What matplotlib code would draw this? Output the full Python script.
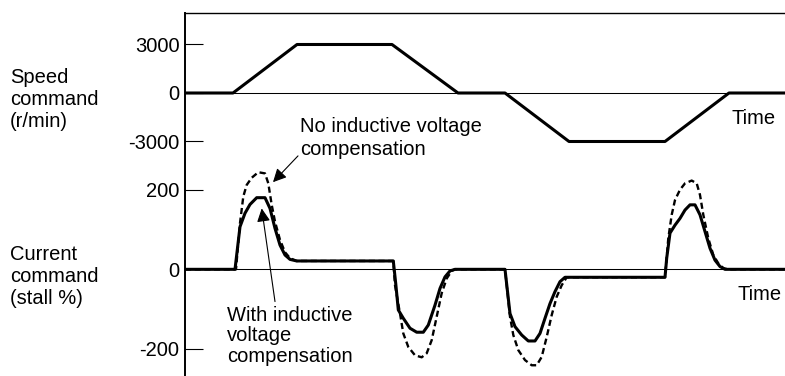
import matplotlib.pyplot as plt

plt.rcParams['font.family'] = ['Liberation Sans', 'DejaVu Sans']

W, H = 785, 376

# speed command profile (time in arbitrary units, r/min)
t_speed = [0, 4.8, 11.2, 20.7, 27.3, 32.0, 38.4, 48.0, 54.4, 60]
speed = [0, 0, 3000, 3000, 0, 0, -3000, -3000, 0, 0]

# current command with inductive voltage compensation (stall %)
t_with = [0, 5.0, 5.5, 6.0, 6.5, 7.17, 8.0, 8.5, 9.0, 9.5, 10.0, 10.5, 11.17, 20.83,
          21.07, 21.33, 21.83, 22.5, 23.17, 23.83, 24.33, 25.0, 25.5, 26.0, 26.5, 27.0, 32.0,
          32.5, 33.0, 33.67, 34.33, 35.0, 35.5, 36.0, 36.5, 37.0, 37.5, 38.0, 38.67, 48.0,
          48.17, 48.5, 49.0, 49.5, 50.0, 50.5, 51.0, 51.5, 52.0, 52.5, 53.0, 53.5, 54.0, 60]
cur_with = [0, 0, 107, 141, 163, 180, 180, 153, 103, 61, 36, 25, 21, 21,
            -35, -102, -123, -148, -158, -158, -140, -90, -48, -19, -4, 0, 0,
            -111, -144, -165, -180, -180, -161, -123, -86, -56, -31, -20, -20, -20,
            28, 91, 111, 128, 149, 162, 162, 137, 95, 53, 23, 7, 0, 0]

# current command without compensation
t_no = [0, 5.1, 5.5, 5.83, 6.17, 6.67, 7.33, 8.0, 8.33, 8.67, 9.0, 9.5, 10.0, 10.5, 11.17, 20.83,
        21.0, 21.5, 21.83, 22.33, 23.0, 23.67, 24.17, 24.67, 25.17, 25.67, 26.17, 26.67, 27.0, 32.0,
        32.5, 32.83, 33.33, 34.0, 34.67, 35.17, 35.67, 36.17, 36.67, 37.17, 37.67, 38.17, 48.0,
        48.33, 48.67, 49.0, 49.5, 50.0, 50.67, 51.17, 51.5, 51.83, 52.33, 52.83, 53.33, 53.83, 54.3, 60]
cur_no = [0, 0, 116, 183, 212, 230, 244, 241, 216, 162, 120, 74, 43, 28, 21, 21,
          -40, -111, -161, -195, -216, -221, -211, -178, -119, -60, -23, -4, 0, 0,
          -119, -165, -203, -228, -241, -241, -220, -170, -115, -69, -40, -20, -20,
          78, 137, 174, 200, 216, 223, 216, 187, 137, 78, 36, 15, 3, 0, 0]

speed_ticks = [3000, 0, -3000]
cur_ticks = [200, 0, -200]

fig = plt.figure(figsize=(W / 100, H / 100), dpi=100)
rect = [185 / W, 0, 600 / W, 363 / H]
ax_s = fig.add_axes(rect)
ax_c = fig.add_axes(rect, frameon=False)

for ax in (ax_s, ax_c):
    ax.set_xlim(0, 60)
    ax.set_xticks([])
    ax.tick_params(axis='y', direction='in', length=13, width=0.8,
                   pad=4, labelsize=14.5)

ax_s.set_ylim(-17505, 4948)
ax_c.set_ylim(-268, 644)
ax_s.set_yticks(speed_ticks, [str(v) for v in speed_ticks])
ax_c.set_yticks(cur_ticks, [str(v) for v in cur_ticks])

ax_s.spines['right'].set_visible(False)
ax_s.spines['bottom'].set_visible(False)
ax_s.spines['left'].set_linewidth(1.4)
ax_s.spines['top'].set_linewidth(1.0)

# zero references
ax_s.axhline(0, color='black', lw=0.75)
ax_c.axhline(0, color='black', lw=0.75)

ax_s.plot(t_speed, speed, color='black', lw=2.2)
ax_c.plot(t_no, cur_no, color='black', lw=1.7, linestyle=(0, (2.6, 1.5)))
ax_c.plot(t_with, cur_with, color='black', lw=2.2)


def fpos(x, y):
    return x / W, 1 - y / H


fs = 14.5
fig.text(*fpos(732, 118), 'Time', fontsize=fs, va='center')
fig.text(*fpos(738, 295), 'Time', fontsize=fs, va='center')

# multi-line labels anchored on the baseline of their last line
fig.text(*fpos(10, 127), 'Speed\ncommand\n(r/min)', fontsize=fs,
         va='baseline', linespacing=1.2)
fig.text(*fpos(10, 303.5), 'Current\ncommand\n(stall %)', fontsize=fs,
         va='baseline', linespacing=1.2)
fig.text(*fpos(300, 155), 'No inductive voltage\ncompensation', fontsize=fs,
         va='baseline', linespacing=1.25)
fig.text(*fpos(227, 361.5), 'With inductive\nvoltage\ncompensation', fontsize=fs,
         va='baseline', linespacing=1.08)

arrow = dict(arrowstyle='-|>', color='black', lw=0.8, mutation_scale=20,
             shrinkA=0, shrinkB=0)
ax_c.annotate('', xy=(8.8, 219), xytext=(11.3, 285), arrowprops=arrow)
ax_c.annotate('', xy=(7.67, 153), xytext=(9.0, -81), arrowprops=arrow)

fig.savefig('out.png', dpi=100)
